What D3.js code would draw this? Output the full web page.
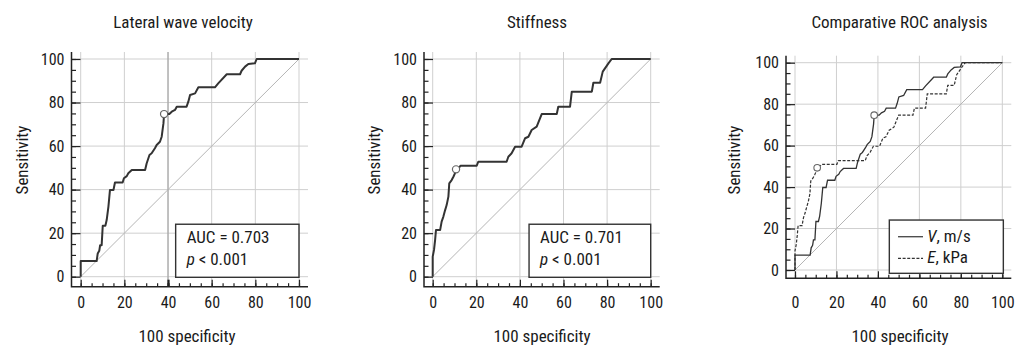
<!DOCTYPE html>
<html>
<head>
<meta charset="utf-8">
<script src="https://cdn.jsdelivr.net/npm/d3@7"></script>
<style>
  html, body { margin: 0; padding: 0; background: #fff; }
  svg text { font-family: "Liberation Sans Narrow", "Roboto Condensed", "DejaVu Sans Condensed", "Arial Narrow", sans-serif; fill: #1a1a1a; }
</style>
</head>
<body>
<svg id="chart" width="1024" height="351"></svg>
<script>
// ---- Data ----
const panelTitles = ["Lateral wave velocity", "Stiffness", "Comparative ROC analysis"];
const axisTicks = [0, 20, 40, 60, 80, 100];
const minorTicks = d3.range(0, 101, 5);
const xLabel = "100 specificity";
const yLabel = "Sensitivity";

// Lateral wave velocity (V, m/s): 100-specificity, sensitivity
const vX = [0, 0, 7.3, 7.8, 8.5, 8.9, 9.6, 10.1, 11.3, 11.9, 12.7, 13.4, 15, 15.7, 19.2, 19.8, 21.1, 21.8, 23.4, 29.5, 30.2, 31.5, 32.5, 34, 34.8, 36.3, 37.1, 37.9, 38.2, 40.6, 41.7, 43.2, 44, 48.5, 49.3, 50.1, 52.4, 53.9, 61.5, 63, 66.9, 73, 73.7, 75.3, 76.8, 79.8, 80.6, 100];
const vY = [0, 7.2, 7.2, 10.7, 11.9, 14.5, 14.5, 23.4, 23.4, 26, 32.2, 39.8, 39.8, 43.3, 43.3, 45.2, 46.2, 47.5, 49, 49, 52, 55.9, 56.7, 59, 60.5, 62, 64.3, 70.4, 74.7, 74.7, 75.8, 76.6, 78.1, 78.1, 80.4, 83.5, 84.2, 87, 87, 88.8, 93, 93, 94.6, 96.5, 97.7, 98, 100, 100];
const vCriterion = [38.2, 74.7];

// Stiffness (E, kPa)
const eX = [0, 0, 0.6, 1.1, 1.5, 3.4, 4.1, 4.9, 5.7, 6.4, 7.2, 7.6, 8.7, 9.5, 10.2, 11, 11.8, 12.8, 20.2, 20.9, 33.9, 34.7, 36.2, 37.8, 40.8, 42.4, 43.9, 45.4, 47.7, 50, 56.9, 57.6, 63, 63.8, 73, 73.7, 76.8, 78, 80.6, 82.1, 100];
const eY = [0, 9.2, 12.3, 16.8, 21.4, 21.4, 25.3, 27.6, 30.6, 32.9, 36.8, 42.9, 44.4, 45.9, 47.5, 49.3, 49.8, 51, 51, 52.8, 52.8, 55.1, 56.7, 59.7, 59.7, 63.6, 64.3, 67.4, 68.9, 74.7, 74.7, 78.1, 78.1, 85, 85, 89.1, 89.1, 94.2, 98, 100, 100];
const eCriterion = [10.7, 49.3];

const aucLabels = ["AUC = 0.703", "AUC = 0.701"];
const pLabel = "< 0.001";
const legendNames = [["V", ", m/s"], ["E", ", kPa"]];

// ---- Layout ----
const panels = [
  { x0: 80.7, x1: 299, y0: 276.7, y1: 59, axX: 71.5, axY: 286.7, titleX: 183, xlabX: 187, ylabX: 22 },
  { x0: 432.7, x1: 650.7, y0: 276.7, y1: 59, axX: 424, axY: 286.7, titleX: 537, xlabX: 542, ylabX: 374 },
  { x0: 795, x1: 1002.3, y0: 270, y1: 62.7, axX: 786, axY: 278.3, titleX: 899.5, xlabX: 900, ylabX: 734 }
];

const svg = d3.select("#chart");
const zip = (xs, ys) => xs.map((d, i) => [d, ys[i]]);
const vPts = zip(vX, vY), ePts = zip(eX, eY);

function drawFrame(p, idx) {
  const g = svg.append("g");
  const x = d3.scaleLinear().domain([0, 100]).range([p.x0, p.x1]);
  const y = d3.scaleLinear().domain([0, 100]).range([p.y0, p.y1]);
  const xEnd = p.x1 + 9, yTop = p.y1 - 7;

  // grid
  const grid = g.append("g").attr("stroke", "#cfcfcf").attr("stroke-width", 1);
  axisTicks.forEach(t => {
    grid.append("line").attr("x1", x(t)).attr("x2", x(t)).attr("y1", yTop).attr("y2", p.axY);
    grid.append("line").attr("x1", p.axX).attr("x2", xEnd).attr("y1", y(t)).attr("y2", y(t));
  });
  if (idx === 0) {
    g.append("line").attr("x1", x(40)).attr("x2", x(40)).attr("y1", yTop).attr("y2", p.axY)
      .attr("stroke", "#9a9a9a").attr("stroke-width", 1);
  }
  // diagonal
  g.append("line").attr("x1", x(0)).attr("y1", y(0)).attr("x2", x(100)).attr("y2", y(100))
    .attr("stroke", "#b5b5b5").attr("stroke-width", 1);

  // axes: minor ticks
  const yMinor = d3.axisLeft(y).tickValues(minorTicks).tickSize(-4.5).tickFormat("");
  const yMajor = d3.axisLeft(y).tickValues(axisTicks).tickSize(-9).tickPadding(7).tickFormat(d3.format("d"));
  const xMinor = d3.axisBottom(x).tickValues(minorTicks).tickSize(-3.5).tickFormat("");
  const xMajor = d3.axisBottom(x).tickValues(axisTicks).tickSize(-7)
      .tickPadding(p.axY > 280 ? 10 : 18.3).tickFormat(d3.format("d"));

  [yMinor, yMajor].forEach(a => {
    const ga = g.append("g").attr("transform", `translate(${p.axX},0)`).call(a);
    ga.select(".domain").remove();
    ga.selectAll("line").attr("stroke", "#222").attr("stroke-width", 1.2);
    ga.selectAll("text").style("font-size", "16px").attr("fill", "#1a1a1a");
  });
  [xMinor, xMajor].forEach(a => {
    const ga = g.append("g").attr("transform", `translate(0,${p.axY})`).call(a);
    ga.select(".domain").remove();
    ga.selectAll("line").attr("stroke", "#222").attr("stroke-width", 1.2);
    ga.selectAll("text").style("font-size", "16px").attr("fill", "#1a1a1a");
    if (idx === 0) ga.selectAll(".tick").filter(d => d === 40).select("line").attr("stroke-width", 2.2);
  });
  // axis lines
  g.append("path").attr("d", `M${p.axX},${yTop}V${p.axY}H${xEnd}`)
    .attr("fill", "none").attr("stroke", "#222").attr("stroke-width", 1.5);

  // labels
  g.append("text").attr("x", p.titleX).attr("y", 27.5).attr("text-anchor", "middle")
    .style("font-size", "17px").text(panelTitles[idx]);
  g.append("text").attr("x", p.xlabX).attr("y", 341.5).attr("text-anchor", "middle")
    .style("font-size", "17px").text(xLabel);
  g.append("text").attr("transform", `translate(${p.ylabX},160) rotate(-90)`).attr("dy", "0.35em")
    .attr("text-anchor", "middle").style("font-size", "17px").text(yLabel);
  return { g, x, y };
}

const line = (x, y) => d3.line().x(d => x(d[0])).y(d => y(d[1]));

// Panel 1 & 2
[[vPts, vCriterion], [ePts, eCriterion]].forEach(([pts, crit], i) => {
  const p = panels[i];
  const { g, x, y } = drawFrame(p, i);
  g.append("path").datum(pts).attr("d", line(x, y)).attr("fill", "none")
    .attr("stroke", "#333").attr("stroke-width", 2).attr("stroke-linejoin", "round");
  g.append("circle").attr("cx", x(crit[0])).attr("cy", y(crit[1])).attr("r", 3.6)
    .attr("fill", "#fff").attr("stroke", "#666").attr("stroke-width", 1.2);
  // AUC box
  const bx = x(i === 0 ? 43.5 : 44.2), by = y(24.1);
  g.append("rect").attr("x", bx).attr("y", by).attr("width", x(100) - bx).attr("height", y(0) - by + 0.6)
    .attr("fill", "#fff").attr("stroke", "#333").attr("stroke-width", 1.4);
  g.append("text").attr("x", bx + 11).attr("y", by + 19).style("font-size", "17px").text(aucLabels[i]);
  const t = g.append("text").attr("x", bx + 11).attr("y", by + 41).style("font-size", "17px");
  t.append("tspan").attr("font-style", "italic").text("p");
  t.append("tspan").text(" " + pLabel);
});

// Panel 3
{
  const p = panels[2];
  const { g, x, y } = drawFrame(p, 2);
  g.append("path").datum(ePts).attr("d", line(x, y)).attr("fill", "none")
    .attr("stroke", "#333").attr("stroke-width", 1.2).attr("stroke-dasharray", "3,1.6");
  g.append("path").datum(vPts).attr("d", line(x, y)).attr("fill", "none")
    .attr("stroke", "#333").attr("stroke-width", 1.3);
  [vCriterion, eCriterion].forEach(c => {
    g.append("circle").attr("cx", x(c[0])).attr("cy", y(c[1])).attr("r", 3.3)
      .attr("fill", "#fff").attr("stroke", "#666").attr("stroke-width", 1.1);
  });
  const bx = x(45.5), by = y(24.1), bw = x(100.5) - bx, bh = y(-1.6) - by;
  g.append("rect").attr("x", bx).attr("y", by).attr("width", bw).attr("height", bh)
    .attr("fill", "#fff").attr("stroke", "#333").attr("stroke-width", 1.4);
  legendNames.forEach((n, i) => {
    const ly = by + 16.7 + i * 21.7;
    g.append("line").attr("x1", bx + 8.7).attr("x2", bx + 33.7).attr("y1", ly).attr("y2", ly)
      .attr("stroke", "#333").attr("stroke-width", 1.2).attr("stroke-dasharray", i ? "3,1.6" : null);
    const t = g.append("text").attr("x", bx + 38).attr("y", ly + 5).style("font-size", "17px");
    t.append("tspan").attr("font-style", "italic").text(n[0]);
    t.append("tspan").text(n[1]);
  });
}
</script>
</body>
</html>
